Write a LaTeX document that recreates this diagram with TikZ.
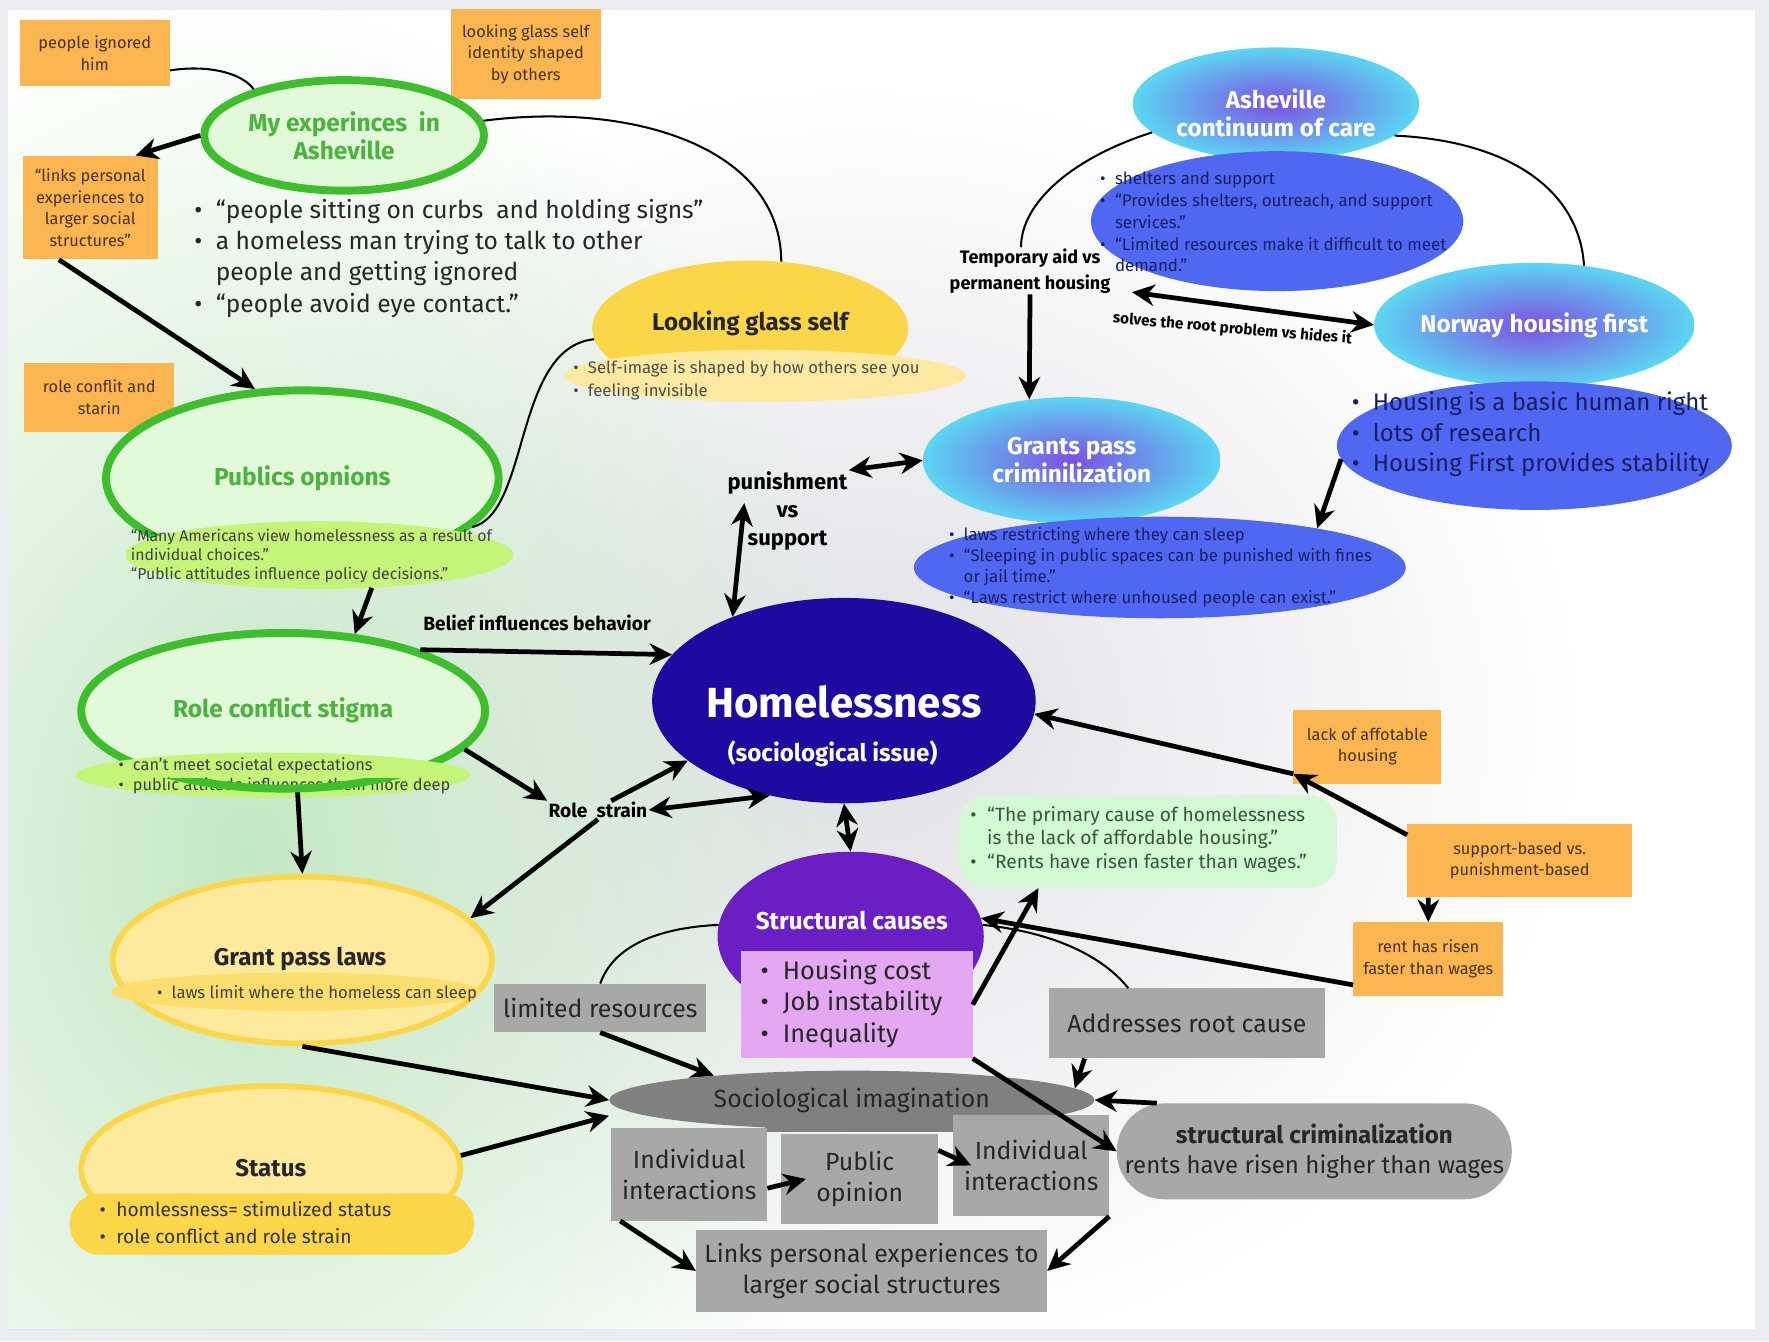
\documentclass[tikz,border=0pt]{standalone}
\usepackage{fontspec}
\setmainfont{Fira Sans}
\usetikzlibrary{shapes.geometric,arrows.meta,positioning,fadings}
\definecolor{framegray}{RGB}{236,237,240}
\definecolor{notebg}{RGB}{251,182,82}
\definecolor{notetext}{RGB}{70,50,20}
\definecolor{ringgreen}{RGB}{62,190,45}
\definecolor{palegreen}{RGB}{227,250,218}
\definecolor{titlegreen}{RGB}{76,178,64}
\definecolor{limegreen}{RGB}{196,244,120}
\definecolor{sunyellow}{RGB}{250,214,72}
\definecolor{paleyellow}{RGB}{254,234,156}
\definecolor{creamyellow}{RGB}{253,233,162}
\definecolor{bubblemid}{RGB}{124,80,226}
\definecolor{bubbleedge}{RGB}{92,214,242}
\definecolor{ovalblue}{RGB}{80,103,242}
\definecolor{navytext}{RGB}{25,30,100}
\definecolor{homeblue}{RGB}{30,10,160}
\definecolor{causepurple}{RGB}{106,30,196}
\definecolor{causepink}{RGB}{228,168,242}
\definecolor{mint}{RGB}{212,249,212}
\definecolor{mintext}{RGB}{45,95,45}
\definecolor{boxgray}{RGB}{168,168,168}
\definecolor{deepgray}{RGB}{128,128,128}
\definecolor{glowgreen}{RGB}{196,232,196}
\definecolor{glowgray}{RGB}{225,225,230}
\tikzfading[name=softglow, inner color=transparent!0, outer color=transparent!100]
\newcommand{\fsz}[2]{\fontsize{#1}{#2}\selectfont}
\newcommand{\blist}[1]{\begin{tabular}{@{}l@{\hspace{0.55em}}l@{}}#1\end{tabular}}

\begin{document}
\begin{tikzpicture}[x=1pt, y=-1pt,
    note/.style={rectangle, fill=notebg, text=notetext, font=\fsz{14.5}{19}, align=center, inner sep=0pt},
    ring/.style={ellipse, draw=ringgreen, line width=7pt, fill=palegreen, text=titlegreen, font=\bfseries\fsz{21.7}{25}, align=center, inner sep=0pt},
    limeoval/.style={ellipse, fill=limegreen, inner sep=0pt},
    bubble/.style={ellipse, inner color=bubblemid, outer color=bubbleedge, inner sep=0pt},
    bubbletext/.style={text=white, font=\bfseries\fsz{21.5}{25}, align=center},
    oval/.style={ellipse, fill=ovalblue, inner sep=0pt},
    bun/.style={ellipse, inner sep=0pt},
    graybox/.style={rectangle, fill=boxgray, text=black!85, font=\fsz{22}{27}, align=center, inner sep=0pt},
    blurb/.style={inner sep=0pt, anchor=north west},
    tag/.style={font=\bfseries\fsz{17}{18}, align=center, inner sep=1pt},
    arrow/.style={-{Stealth[length=20pt,width=19pt]}, line width=4.2pt},
    twoway/.style={{Stealth[length=20pt,width=19pt]}-{Stealth[length=20pt,width=19pt]}, line width=4.2pt},
    thinlink/.style={line width=1.8pt}
]

% page and soft background glows
\useasboundingbox (0,0) rectangle (1568,1189);
\fill[framegray] (0,0) rectangle (1568,1189);
\fill[white] (7,9) rectangle (1556,1178);
\begin{scope}
  \clip (7,9) rectangle (1556,1178);
  \fill[glowgray, path fading=softglow] (760,640) ellipse [x radius=640pt, y radius=560pt];
  \fill[glowgreen, path fading=softglow] (220,760) ellipse [x radius=560pt, y radius=760pt];
\end{scope}

% sticky notes
\node[note, minimum width=133pt, minimum height=58pt] (ignored) at (84,47) {people ignored\\him};
\node[note, minimum width=133pt, minimum height=80pt] (mirrornote) at (466,48) {looking glass self\\identity shaped\\by others};
\node[note, minimum width=120pt, minimum height=92pt] (linksnote) at (80,184) {“links personal\\experiences to\\larger social\\structures”};
\node[note, minimum width=133pt, minimum height=61pt] (strainnote) at (88,352) {role conflit and\\starin};
\node[note, minimum width=131pt, minimum height=66pt] (lack) at (1212,662) {lack of affotable\\housing};
\node[note, minimum width=199pt, minimum height=65pt] (supnote) at (1347,763) {support-based vs.\\punishment-based};
\node[note, minimum width=133pt, minimum height=65pt] (rent) at (1266,850) {rent has risen\\faster than wages};

% green column
\node[ring, minimum width=248pt, minimum height=98pt] (exp) at (305,120) {My experinces\ \ in\\Asheville};
\node[blurb, text=black!85, font=\fsz{21.8}{27.7}] (seen) at (172,174) {\blist{\textbullet & “people sitting on curbs\ \ and holding signs”\\ \textbullet & a homeless man trying to talk to other\\ & people and getting ignored\\ \textbullet & “people avoid eye contact.”}};

\node[ring, minimum width=348pt, minimum height=156pt] (pub) at (268,424) {Publics opnions};
\node[limeoval, minimum width=344pt, minimum height=60pt] (pubq) at (283,492) {};
\node[font=\fsz{14}{17}, align=left, inner sep=0pt, text=black!75] at (276,493) {“Many Americans view homelessness as a result of\\individual choices.”\\“Public attitudes influence policy decisions.”};

\node[ring, minimum width=358pt, minimum height=138pt] (rcs) at (251,630) {Role conflict stigma};
\node[limeoval, minimum width=350pt, minimum height=40pt] (rcsb) at (242,687) {};
\node[blurb, font=\fsz{14.5}{18}, text=black!75] at (105,670) {\blist{\textbullet & can’t meet societal expectations\\ \textbullet & public attitude influences them more deep}};
\begin{scope}
  \clip (125,690) rectangle (370,712);
  \draw[ringgreen, line width=7pt] (rcs.center) ellipse [x radius=179pt, y radius=69pt];
\end{scope}

% yellow shapes
\node[bun, fill=sunyellow, minimum width=280pt, minimum height=120pt] (mirror) at (665,291) {};
\node[bun, fill=creamyellow, minimum width=356pt, minimum height=46pt] (mirrorbase) at (678,333) {};
\node[font=\bfseries\fsz{21.4}{24}, text=black!85] at (665,287) {Looking glass self};
\node[blurb, font=\fsz{14.8}{20}, text=black!70] at (508,317) {\blist{\textbullet & Self-image is shaped by how others see you\\ \textbullet & feeling invisible}};

\node[bun, fill=paleyellow, draw=sunyellow, line width=5pt, minimum width=336pt, minimum height=148pt] (gpl) at (268,851) {};
\node[bun, fill=sunyellow!80!white, minimum width=328pt, minimum height=34pt] (gplband) at (262,879) {};
\node[font=\bfseries\fsz{21.4}{24}, text=black!85] at (266,850) {Grant pass laws};
\node[font=\fsz{14.8}{16}, text=black!75] at (281,881) {\textbullet\hspace{0.55em}laws limit where the homeless can sleep};

\node[bun, fill=paleyellow, draw=sunyellow, line width=5pt, minimum width=336pt, minimum height=147pt] (status) at (240,1036) {};
\node[rectangle, rounded corners=26pt, fill=sunyellow, minimum width=358pt, minimum height=54pt, inner sep=0pt] (statusbase) at (241,1085) {};
\node[font=\bfseries\fsz{21.4}{24}, text=black!85] at (240,1035) {Status};
\node[blurb, font=\fsz{17}{24}, text=black!80] at (88,1061) {\blist{\textbullet & homlessness= stimulized status\\ \textbullet & role conflict and role strain}};

% blue side
\node[bubble, minimum width=254pt, minimum height=100pt] (ashe) at (1131,92) {};
\node[bubbletext] at (1131,100) {Asheville\\continuum of care};
\node[oval, minimum width=330pt, minimum height=124pt] (asheb) at (1132,196) {};
\node[blurb, font=\fsz{15}{19.3}, text=navytext] at (975,150) {\blist{\textbullet & shelters and support\\ \textbullet & “Provides shelters, outreach, and support\\ & services.”\\ \textbullet & “Limited resources make it difficult to meet\\ & demand.”}};

\node[bubble, minimum width=284pt, minimum height=110pt] (norway) at (1360,288) {};
\node[bubbletext] at (1360,288) {Norway housing first};
\node[oval, minimum width=350pt, minimum height=114pt] (norwayb) at (1360,395) {};
\node[blurb, font=\fsz{21.3}{27}, text=navytext] at (1198,345) {\blist{\textbullet & Housing is a basic human right\\ \textbullet & lots of research\\ \textbullet & Housing First provides stability}};

\node[bubble, minimum width=264pt, minimum height=112pt] (grants) at (950,408) {};
\node[bubbletext] at (950,408) {Grants pass\\criminilization};
\node[oval, minimum width=436pt, minimum height=90pt] (grantsb) at (1028,503) {};
\node[blurb, font=\fsz{14.9}{18.5}, text=navytext] at (841,466) {\blist{\textbullet & laws restricting where they can sleep\\ \textbullet & “Sleeping in public spaces can be punished with fines\\ & or jail time.”\\ \textbullet & “Laws restrict where unhoused people can exist.”}};

% centre
\node[ellipse, fill=homeblue, minimum width=340pt, minimum height=182pt, inner sep=0pt] (home) at (748,621) {};
\node[text=white, font=\bfseries\fsz{37.3}{40}] at (748,622) {Homelessness};
\node[text=white, font=\bfseries\fsz{21.4}{22}] at (738,668) {(sociological issue)};

\node[rectangle, rounded corners=24pt, fill=mint, minimum width=335pt, minimum height=82pt, inner sep=0pt] (quote) at (1017.5,746) {};
\node[blurb, font=\fsz{17}{21}, text=mintext] at (860,713) {\blist{\textbullet & “The primary cause of homelessness\\ & is the lack of affordable housing.”\\ \textbullet & “Rents have risen faster than wages.”}};

\node[bun, fill=causepurple, minimum width=236pt, minimum height=150pt] (causes) at (754,830) {};
\node[rectangle, fill=causepink, minimum width=205pt, minimum height=95pt, inner sep=0pt] (causelist) at (759.5,890.5) {};
\node[text=white, font=\bfseries\fsz{21.5}{22}] at (755,816) {Structural causes};
\node[blurb, font=\fsz{22.5}{28}, text=black!85] at (674,848) {\blist{\textbullet & Housing cost\\ \textbullet & Job instability\\ \textbullet & Inequality}};

% gray boxes
\node[graybox, minimum width=188pt, minimum height=43pt] (limited) at (532,893.5) {limited resources};
\node[graybox, minimum width=245pt, minimum height=62pt] (rootcause) at (1052,907) {Addresses root cause};
\fill[deepgray] (678,975) rectangle (845,1003);
\node[ellipse, fill=deepgray, minimum width=430pt, minimum height=52pt, inner sep=0pt, font=\fsz{22}{24}, text=black!85] (imagination) at (755,975) {Sociological imagination};
\node[graybox, minimum width=138pt, minimum height=82pt] (indiv) at (611,1041) {Individual\\interactions};
\node[graybox, minimum width=139pt, minimum height=80pt] (opinion) at (762,1045) {Public\\opinion};
\node[graybox, minimum width=138pt, minimum height=90pt] (indivb) at (914,1033) {Individual\\interactions};
\node[graybox, minimum width=311pt, minimum height=73pt] (links) at (772.5,1126.5) {Links personal experiences to\\larger social structures};
\node[graybox, rounded corners=42pt, minimum width=350pt, minimum height=85pt, font=\fsz{21.3}{27}] (crim) at (1165,1020.5) {\textbf{structural criminalization}\\rents have risen higher than wages};

% connector labels
\node[tag] (belief) at (476,552) {Belief influences behavior};
\node[tag] (strain) at (530,718) {Role\ \ strain};
\node[tag, font=\bfseries\fsz{19.5}{25}] (stance) at (698,453) {punishment\\vs\\support};
\node[tag, font=\bfseries\fsz{16}{23}] (tempaid) at (913,240) {Temporary aid vs\\permanent housing};

% thin links
\draw[thinlink] (ignored.-13) .. controls (185,57) and (215,65) .. (exp.153);
\draw[thinlink] (exp.6) .. controls (560,90) and (692,130) .. (mirror.65);
\draw[thinlink] (mirror.184) .. controls (455,308) and (470,455) .. (pub.-16);
\draw[thinlink] (ashe.193) .. controls (950,140) and (905,180) .. ([xshift=-8pt]tempaid.north);
\draw[thinlink] (ashe.-15) .. controls (1340,125) and (1400,170) .. (norway.50);
\draw[thinlink] (causes.5) .. controls (930,826) and (975,845) .. (rootcause.149);
\draw[thinlink] (limited.north) .. controls (545,835) and (590,822) .. (causes.175);

% arrows
\draw[arrow] (exp.west) -- (linksnote.49);
\draw[arrow] (linksnote.239) -- (pub.118);
\draw[arrow] (pubq.-32) -- (rcs.47);
\draw[arrow] (rcs.24) -- (home.165);
\draw[arrow] (rcs.-12) -- (strain.north west);
\draw[arrow] (rcs.-80) -- (gpl.north);
\draw[arrow] (strain.35) -- (home.201);
\draw[twoway] (strain.east) -- (home.232);
\draw[arrow] (strain.south) -- (gpl.14);
\draw[twoway] (home.143) -- ([xshift=16pt,yshift=7pt]stance.west);
\draw[twoway] (stance.north east) -- (grants.west);
\draw[arrow] (tempaid.south) -- (grants.125);
\draw[twoway] ([xshift=18pt,yshift=2pt]tempaid.south east) -- (norway.west)
  node[pos=0.42, below=8pt, rotate=-5, font=\bfseries\fsz{13.5}{14}] {solves the root problem vs hides it};
\draw[arrow] (norwayb.184) -- (grantsb.14);
\draw[arrow] (supnote.167) -- (lack.200);
\draw[arrow] (lack.200) -- (home.-4);
\draw[arrow] (supnote.202) -- (rent.north);
\draw[arrow] (rent.199) -- (causes.8);
\draw[arrow] (causelist.east) -- (quote.203);
\draw[twoway] (home.south) -- (causes.north);
\draw[arrow] (limited.south) -- (imagination.170);
\draw[arrow] (gpl.south) -- (imagination.west);
\draw[arrow] (status.4) -- ([yshift=-14pt]imagination.west);
\draw[arrow] (causelist.south east) -- (crim.west);
\draw[arrow] (rootcause.199) -- (imagination.3);
\draw[arrow] (crim.163) -- (imagination.east);
\draw[arrow] (indiv.-10) -- ([xshift=22pt]opinion.west);
\draw[arrow] (opinion.20) -- ([xshift=16pt]indivb.west);
\draw[arrow] ([xshift=8pt]indiv.south west) -- (links.west);
\draw[arrow] (indivb.south east) -- (links.east);

\end{tikzpicture}
\end{document}
